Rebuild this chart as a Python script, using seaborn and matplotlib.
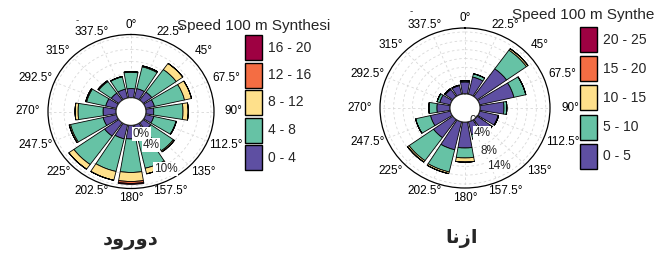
import numpy as np
import pandas as pd
import matplotlib
matplotlib.use("Agg")
import matplotlib.pyplot as plt
from matplotlib.patches import Rectangle
import seaborn as sns

sns.set_style("white")
plt.rcParams['font.family'] = ['Liberation Sans', 'DejaVu Sans']

# wind directions (degrees)
directions = [0, 22.5, 45, 67.5, 90, 112.5, 135, 157.5,
              180, 202.5, 225, 247.5, 270, 292.5, 315, 337.5]

# speed bin colours (low -> high)
colors = ["#5E4FA2", "#66C2A5", "#FEE08B", "#F46D43", "#9E0142"]

# station 1 : Dorud  (frequency %, per speed bin)
dorud_bins = ["0 - 4", "4 - 8", "8 - 12", "12 - 16", "16 - 20"]
dorud_0_4 = [1.5, 1.6, 1.65, 1.4, 1.2, 1.3, 1.45, 1.7, 2.25, 2.35, 2.7, 2.1, 2.0, 1.7, 1.45, 1.5]
dorud_4_8 = [2.7, 3.7, 4.6, 4.75, 4.5, 3.5, 4.25, 5.65, 5.55, 5.55, 5.8, 5.15, 3.85, 3.0, 2.35, 2.1]
dorud_8_12 = [0.1, 0.16, 1.25, 1.1, 0.8, 0.05, 0.2, 0.95, 1.5, 1.5, 0.95, 0.2, 0.45, 0.15, 0.15, 0.05]
dorud_12_16 = [0, 0, 0, 0, 0, 0, 0, 0, 0.32, 0, 0, 0, 0, 0, 0, 0]
dorud_16_20 = [0, 0, 0, 0, 0, 0, 0, 0, 0.16, 0, 0, 0, 0, 0, 0, 0]

# station 2 : Azna
azna_bins = ["0 - 5", "5 - 10", "10 - 15", "15 - 20", "20 - 25"]
azna_0_5 = [2.7, 4.0, 7.7, 7.5, 5.1, 4.05, 3.5, 2.95, 5.85, 6.5, 5.05, 4.35, 2.8, 2.3, 1.95, 2.0]
azna_5_10 = [0.27, 0.74, 5.2, 2.6, 0.6, 0.1, 0.4, 1.05, 2.25, 5.15, 6.4, 3.25, 1.7, 0.6, 0.2, 0.1]
azna_10_15 = [0, 0, 0.4, 0, 0, 0, 0, 0, 0.95, 0.4, 0.4, 0, 0, 0, 0, 0]
azna_15_20 = [0] * 16
azna_20_25 = [0] * 16

# radial labels: (text, direction, radius %, on top of bars)
dorud_rlabels = [("0%", 157, 1.8, True), ("4%", 151, 4.0, True), ("10%", 151, 8.6, True)]
azna_rlabels = [("0%", 137, 0.9, False), ("4%", 147, 3.5, True), ("8%", 152, 7.7, True),
                ("14%", 151, 11.7, True)]


def draw_rose(ax, df, bins, rmax, rorigin, rticks, rlabels):
    ax.set_aspect('auto')
    ax.set_theta_zero_location('N')
    ax.set_theta_direction(-1)
    theta = np.deg2rad(df['dir'].values)
    width = np.deg2rad(22.5) * 0.84
    bottom = np.zeros(len(df))
    for b, c in zip(bins, colors):
        h = df[b].values
        ax.bar(theta, h, width=width, bottom=bottom, color=c,
               edgecolor='black', linewidth=0.6, zorder=2)
        bottom = bottom + h
    ax.set_ylim(0, rmax)
    ax.set_rorigin(rorigin)
    ax.set_yticks(rticks)
    ax.set_yticklabels([])
    ax.set_xticks(np.deg2rad(directions))
    ax.set_xticklabels([])
    ax.grid(True, color='#d8d8d8', linestyle=(0, (3, 3)), linewidth=0.6)
    ax.spines['polar'].set_color('black')
    ax.spines['polar'].set_linewidth(0.9)
    for d in directions:
        a = np.deg2rad(d)
        ax.text(0.5 + 0.5 * 1.24 * np.sin(a), 0.5 + 0.5 * 1.12 * np.cos(a),
                f"{d:g}°", transform=ax.transAxes, ha='center', va='center',
                fontsize=8.5, color='black')
    for txt, d, r, top in rlabels:
        ax.text(np.deg2rad(d), r, txt, ha='center', va='center', fontsize=8.5,
                zorder=5 if top else 1.5,
                bbox=dict(facecolor='white', edgecolor='none', pad=0.6))


def draw_legend(ax, bins, title, tx, ty, bx, by, pitch):
    ax.text(tx, ty, title, fontsize=11, ha='left', va='center', clip_on=True)
    for i, (b, c) in enumerate(reversed(list(zip(bins, colors)))):
        y = by + i * pitch
        ax.add_patch(Rectangle((bx, y), 17, 25, facecolor=c, edgecolor='black', linewidth=1.0))
        ax.text(bx + 23, y + 12.5, b, fontsize=10, ha='left', va='center')


dorud = pd.DataFrame({'dir': directions, dorud_bins[0]: dorud_0_4, dorud_bins[1]: dorud_4_8,
                      dorud_bins[2]: dorud_8_12, dorud_bins[3]: dorud_12_16, dorud_bins[4]: dorud_16_20})
azna = pd.DataFrame({'dir': directions, azna_bins[0]: azna_0_5, azna_bins[1]: azna_5_10,
                     azna_bins[2]: azna_10_15, azna_bins[3]: azna_15_20, azna_bins[4]: azna_20_25})

W, H = 654, 254
fig = plt.figure(figsize=(W / 100, H / 100), dpi=100)

# overlays in pixel coordinates (one per half, to clip the long titles)
ovl = fig.add_axes([0, 0, 330 / W, 1])
ovl.set_xlim(0, 330)
ovl.set_ylim(H, 0)
ovl.axis('off')
ovr = fig.add_axes([330 / W, 0, 324 / W, 1])
ovr.set_xlim(330, 654)
ovr.set_ylim(H, 0)
ovr.axis('off')

axl = fig.add_axes([(131 - 83) / W, (H - 111.5 - 77) / H, 166 / W, 154 / H], projection='polar')
draw_rose(axl, dorud, dorud_bins, 10.46, -2.3, [2, 4, 6, 8, 10], dorud_rlabels)

axr = fig.add_axes([(465 - 85) / W, (H - 108 - 80) / H, 170 / W, 160 / H], projection='polar')
draw_rose(axr, azna, azna_bins, 14.9, -3.2, [2, 4, 6, 8, 10, 12, 14], azna_rlabels)

draw_legend(ovl, dorud_bins, "Speed 100 m Synthesis", 177, 26, 245, 35, 27.5)
draw_legend(ovr, azna_bins, "Speed 100 m Synthesis", 512, 15, 580, 27, 29.2)

ovl.text(77, 20, "-", fontsize=7, ha='center', va='center')
ovr.text(411, 11, "-", fontsize=7, ha='center', va='center')

# station names (Arabic presentation forms, visual order)
ovl.text(131, 240, "\ufea9\ufeed\ufead\ufeed\ufea9", family=['DejaVu Sans'],
         fontweight='bold', fontsize=14, ha='center', va='center')
ovr.text(462, 239, "\ufe8e\ufee7\ufeaf\ufe8d", family=['DejaVu Sans'],
         fontweight='bold', fontsize=14, ha='center', va='center')

fig.savefig("out.png", dpi=100)
